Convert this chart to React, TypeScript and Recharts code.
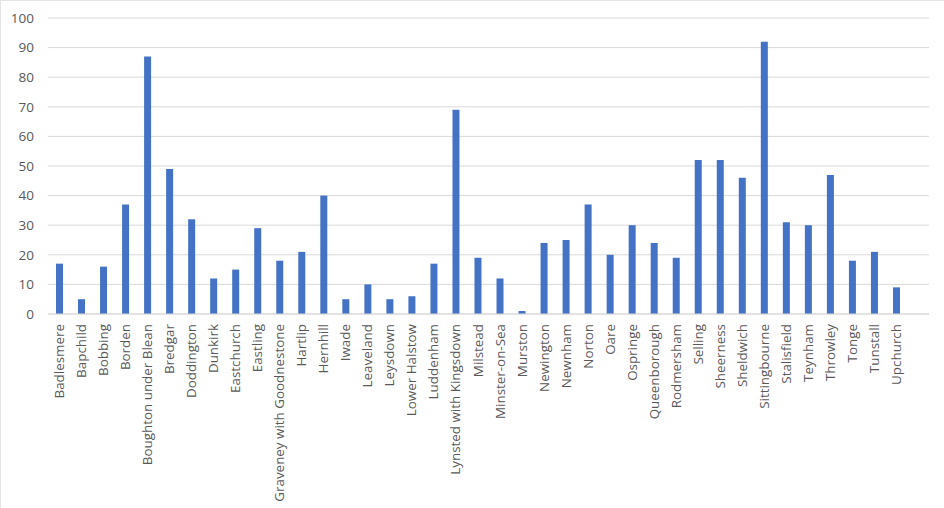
import React from "react";
import { BarChart, Bar, XAxis, YAxis, CartesianGrid } from "recharts";

const parishes = [
  "Badlesmere", "Bapchild", "Bobbing", "Borden", "Boughton under Blean", "Bredgar",
  "Doddington", "Dunkirk", "Eastchurch", "Eastling", "Graveney with Goodnestone",
  "Hartlip", "Hernhill", "Iwade", "Leaveland", "Leysdown", "Lower Halstow",
  "Luddenham", "Lynsted with Kingsdown", "Milstead", "Minster-on-Sea", "Murston",
  "Newington", "Newnham", "Norton", "Oare", "Ospringe", "Queenborough",
  "Rodmersham", "Selling", "Sheerness", "Sheldwich", "Sittingbourne",
  "Stalisfield", "Teynham", "Throwley", "Tonge", "Tunstall", "Upchurch",
];

const counts = [
  17, 5, 16, 37, 87, 49, 32, 12, 15, 29, 18, 21, 40, 5, 10, 5, 6, 17, 69, 19,
  12, 1, 24, 25, 37, 20, 30, 24, 19, 52, 52, 46, 92, 31, 30, 47, 18, 21, 9,
];

const yTicks = [0, 10, 20, 30, 40, 50, 60, 70, 80, 90, 100];

const data = parishes.map((name, i) => ({ name, value: counts[i] }));

const FONT = "'Open Sans', sans-serif";
const TEXT = "#595959";

const XTick = ({ x, y, payload }: any) => (
  <text
    x={x}
    y={y}
    transform={`rotate(-90 ${x} ${y})`}
    textAnchor="end"
    dominantBaseline="central"
    fill={TEXT}
    fontSize={13.4}
    fontFamily={FONT}
  >
    {payload.value}
  </text>
);

export default function App() {
  return (
    <div
      style={{
        position: "fixed",
        left: 0,
        top: 0,
        width: 944,
        height: 508,
        background: "#fff",
        boxSizing: "border-box",
        borderLeft: "1px solid #e4e4e4",
        borderTop: "1px solid #e4e4e4",
      }}
    >
      <BarChart
        width={943}
        height={507}
        data={data}
        margin={{ top: 17, right: 15, left: 0, bottom: 0 }}
        style={{ fontFamily: FONT }}
      >
        <CartesianGrid vertical={false} stroke="#d9d9d9" strokeWidth={1} />
        <XAxis
          dataKey="name"
          interval={0}
          height={194}
          tickLine={false}
          axisLine={{ stroke: "#d9d9d9" }}
          tickMargin={4}
          padding={{ left: 0, right: 22 }}
          tick={<XTick />}
        />
        <YAxis
          width={47}
          domain={[0, 100]}
          ticks={yTicks}
          axisLine={false}
          tickLine={false}
          tickMargin={8}
          tick={{ fill: TEXT, fontSize: 13.5, fontFamily: FONT }}
        />
        <Bar dataKey="value" fill="#4472C4" barSize={7} isAnimationActive={false} />
      </BarChart>
    </div>
  );
}
